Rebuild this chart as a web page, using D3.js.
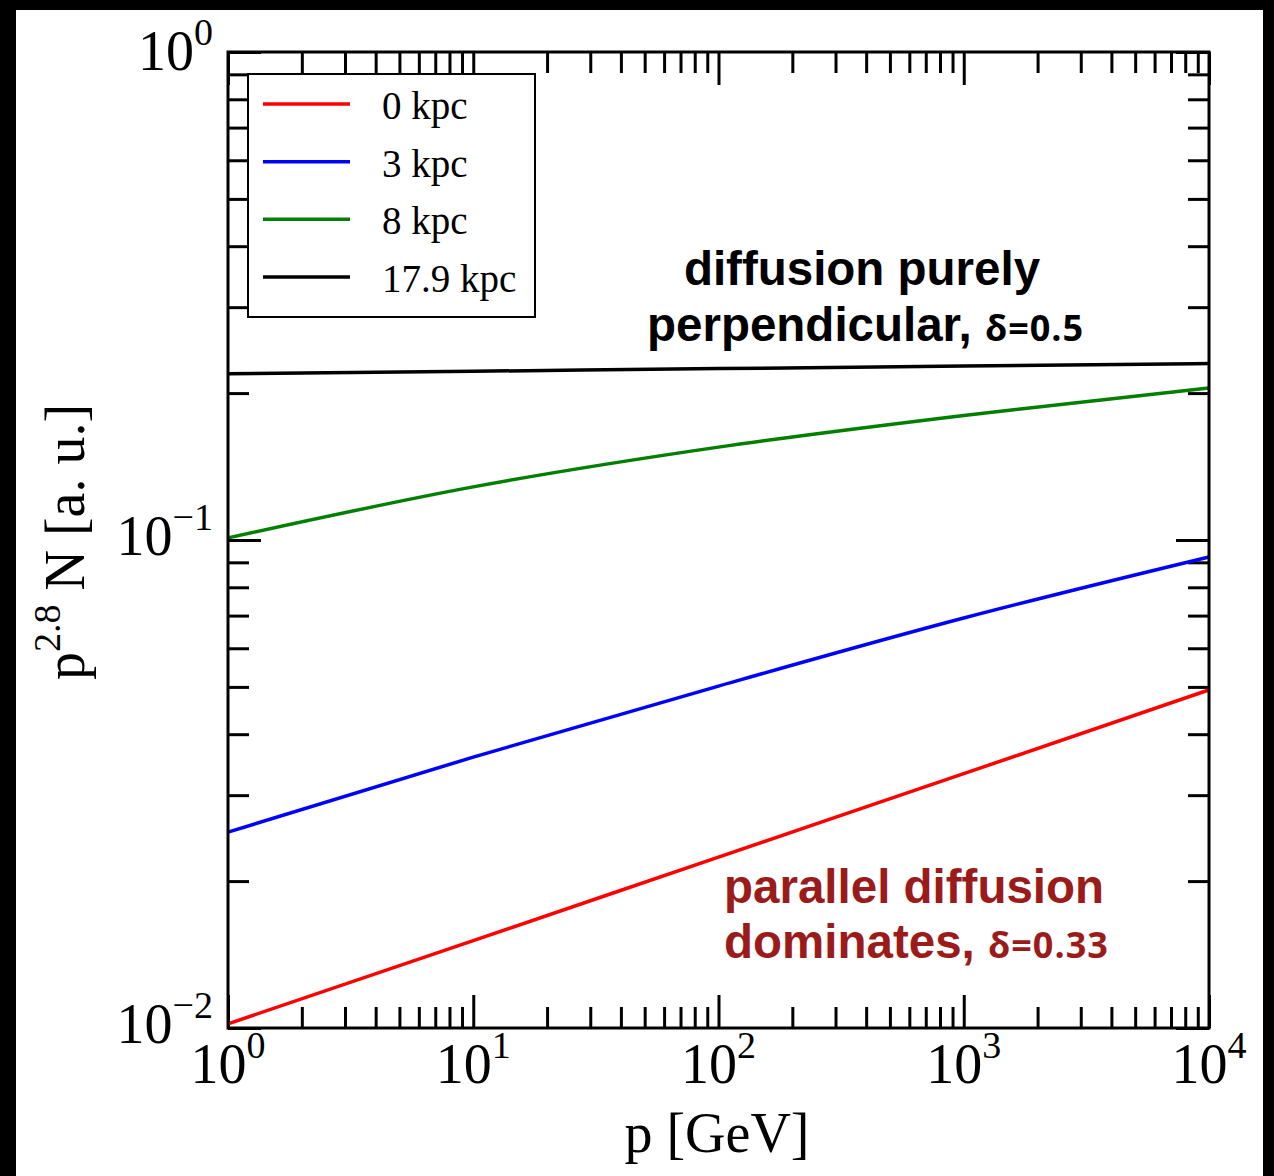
<!DOCTYPE html>
<html>
<head>
<meta charset="utf-8">
<script src="https://cdn.jsdelivr.net/npm/d3@7"></script>
<style>
  body { margin: 0; background: #000; }
  svg { display: block; }
</style>
</head>
<body>
<svg id="chart"></svg>
<script>
// momentum grid (GeV) and p^2.8 N values
const momenta = [1, 10, 100, 1000, 10000];
const seriesNames = ["0 kpc", "3 kpc", "8 kpc", "17.9 kpc"];
const seriesColors = ["#ff0000", "#0000ff", "#007f00", "#000000"];
const red0 = [0.0102, 0.0151, 0.0224, 0.0332, 0.0493];
const blue3 = [0.0252, 0.0359, 0.0502, 0.0692, 0.0923];
const green8 = [0.101, 0.1285, 0.155, 0.180, 0.205];
const black179 = [0.219, 0.2217, 0.2245, 0.2272, 0.230];
const xTickExps = [0, 1, 2, 3, 4];
const yTickExps = [0, -1, -2];

const W = 1274, H = 1176;
const plot = {left: 228, right: 1209, top: 52, bottom: 1028};

const svg = d3.select("#chart").attr("width", W).attr("height", H);

// white sheet inside the black frame
svg.append("rect").attr("x", 16).attr("y", 10).attr("width", 1263 - 16).attr("height", H - 10).attr("fill", "#fff");

const x = d3.scaleLog().domain([1, 1e4]).range([plot.left, plot.right]);
const y = d3.scaleLog().domain([1e-2, 1]).range([plot.bottom, plot.top]);

const minorX = [], minorY = [];
for (let e = 0; e < 4; e++) for (let k = 2; k <= 9; k++) minorX.push(k * Math.pow(10, e));
for (let e = -2; e < 0; e++) for (let k = 2; k <= 9; k++) minorY.push(k * Math.pow(10, e));
const majorX = xTickExps.map(e => Math.pow(10, e));
const majorY = yTickExps.map(e => Math.pow(10, e));

const plotW = plot.right - plot.left, plotH = plot.bottom - plot.top;
const axisStyle = g => {
  g.select(".domain").remove();
  g.selectAll(".tick line").attr("stroke", "#000").attr("stroke-width", 3);
  g.selectAll(".tick text").remove();
};

// ticks on all four sides, pointing inward
const addAxis = (maker, scale, values, size, tx, ty) => {
  svg.append("g").attr("transform", `translate(${tx},${ty})`)
    .call(maker(scale).tickValues(values).tickSize(size).tickFormat(""))
    .call(axisStyle);
};
addAxis(d3.axisBottom, x, minorX, -21, 0, plot.bottom);
addAxis(d3.axisBottom, x, majorX, -33, 0, plot.bottom);
addAxis(d3.axisTop, x, minorX, -21, 0, plot.top);
addAxis(d3.axisTop, x, majorX, -33, 0, plot.top);
addAxis(d3.axisLeft, y, minorY, -21, plot.left, 0);
addAxis(d3.axisLeft, y, majorY, -33, plot.left, 0);
addAxis(d3.axisRight, y, minorY, -21, plot.right, 0);
addAxis(d3.axisRight, y, majorY, -33, plot.right, 0);

// curves
const allSeries = [red0, blue3, green8, black179];
const line = d3.line()
  .x((d, i) => x(momenta[i]))
  .y(d => y(d))
  .curve(d3.curveMonotoneX);

svg.append("g").selectAll("path")
  .data(allSeries)
  .join("path")
  .attr("d", d => line(d))
  .attr("fill", "none")
  .attr("stroke", (d, i) => seriesColors[i])
  .attr("stroke-width", 3.5);

// frame
svg.append("rect")
  .attr("x", plot.left).attr("y", plot.top)
  .attr("width", plotW).attr("height", plotH)
  .attr("fill", "none").attr("stroke", "#000").attr("stroke-width", 3);

const serif = "'Liberation Serif', 'Times New Roman', serif";

// tick labels
const xLab = svg.append("g").selectAll("text").data(xTickExps).join("text")
  .attr("x", d => x(Math.pow(10, d)))
  .attr("y", 1083)
  .attr("text-anchor", "middle")
  .attr("font-family", serif).attr("font-size", 56);
xLab.append("tspan").text("10");
xLab.append("tspan").attr("dy", -25).attr("font-size", 38).text(d => d);

const yLab = svg.append("g").selectAll("text").data(yTickExps).join("text")
  .attr("x", 213)
  .attr("y", d => y(Math.pow(10, d)) + (d === 0 ? 18 : 15))
  .attr("text-anchor", "end")
  .attr("font-family", serif).attr("font-size", 56);
yLab.append("tspan").text("10");
yLab.append("tspan").attr("dy", -25).attr("font-size", 38).text(d => d === 0 ? "0" : "\u2212" + (-d));

// axis titles
svg.append("text")
  .attr("x", 717).attr("y", 1152)
  .attr("text-anchor", "middle")
  .attr("font-family", serif).attr("font-size", 56)
  .text("p [GeV]");

const yTitle = svg.append("text")
  .attr("transform", "translate(84,542) rotate(-90)")
  .attr("text-anchor", "middle")
  .attr("font-family", serif).attr("font-size", 56);
yTitle.append("tspan").text("p");
yTitle.append("tspan").attr("dy", -24).attr("font-size", 38).text("2.8");
yTitle.append("tspan").attr("dy", 24).text(" N [a. u.]");

// legend
const legend = svg.append("g");
legend.append("rect")
  .attr("x", 248).attr("y", 74).attr("width", 287).attr("height", 243)
  .attr("fill", "#fff").attr("stroke", "#000").attr("stroke-width", 2);
const legendY = d3.scalePoint().domain(seriesNames).range([104, 277]);
const items = legend.selectAll("g").data(seriesNames).join("g")
  .attr("transform", d => `translate(0,${legendY(d)})`);
items.append("line")
  .attr("x1", 263).attr("x2", 350)
  .attr("stroke", (d, i) => seriesColors[i]).attr("stroke-width", 3.5);
items.append("text")
  .attr("x", 382).attr("y", 15)
  .attr("font-family", serif).attr("font-size", 39)
  .text(d => d);

// annotations
const sans = "'Liberation Sans', Arial, sans-serif";
const deltaFont = "'Open Sans', 'Noto Sans', sans-serif";
const ann1 = svg.append("g").attr("font-family", sans).attr("font-weight", "bold").attr("fill", "#000");
ann1.append("text").attr("x", 862).attr("y", 285).attr("text-anchor", "middle")
  .attr("font-size", 47.5).text("diffusion purely");
const a1l2 = ann1.append("text").attr("x", 647).attr("y", 341).attr("font-size", 47.5);
a1l2.append("tspan").text("perpendicular, ");
a1l2.append("tspan").attr("font-family", deltaFont).attr("font-size", 36)
  .attr("letter-spacing", 1).text("\u03b4=0.5");

const ann2 = svg.append("g").attr("font-family", sans).attr("font-weight", "bold").attr("fill", "#9b1b1b");
ann2.append("text").attr("x", 724).attr("y", 903).attr("font-size", 47.5).text("parallel diffusion");
const a2l2 = ann2.append("text").attr("x", 724).attr("y", 958).attr("font-size", 47.5);
a2l2.append("tspan").text("dominates, ");
a2l2.append("tspan").attr("font-family", deltaFont).attr("font-size", 36)
  .attr("letter-spacing", 1).text("\u03b4=0.33");
</script>
</body>
</html>
